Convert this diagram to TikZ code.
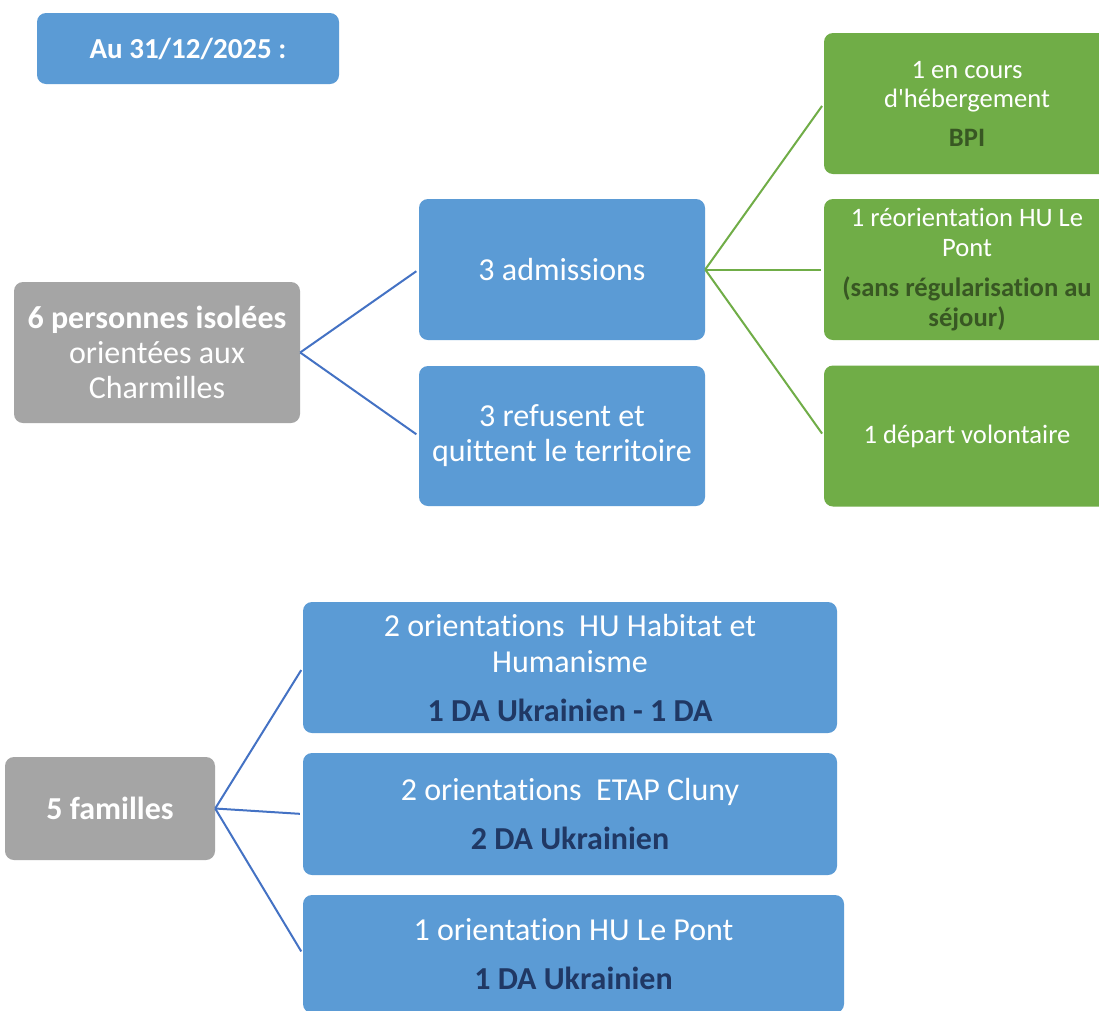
\documentclass[tikz,border=0pt]{standalone}
\usepackage{fontspec}
\setmainfont[Ligatures={NoCommon,TeXOff}]{Carlito}
\definecolor{boxblue}{HTML}{5B9BD5}
\definecolor{boxgray}{HTML}{A5A5A5}
\definecolor{boxgreen}{HTML}{70AD47}
\definecolor{lineblue}{HTML}{4472C4}
\definecolor{textgreen}{HTML}{385723}
\definecolor{textnavy}{HTML}{203864}
\newcommand{\gbold}[1]{\textcolor{textgreen}{\textbf{#1}}}
\newcommand{\nbold}[1]{\textcolor{textnavy}{\textbf{#1}}}
\tikzset{
  box/.style={rounded corners=9pt, inner sep=0pt, align=center, text=white},
  bluebox/.style={box, fill=boxblue},
  graybox/.style={box, fill=boxgray},
  greenbox/.style={box, fill=boxgreen, minimum width=286pt, minimum height=141pt, font=\fontsize{26.6}{29.5}\selectfont},
  topfont/.style={font=\fontsize{32}{35}\selectfont},
  botfont/.style={font=\fontsize{32}{36}\selectfont},
  bluelink/.style={draw=lineblue, line width=2pt, shorten >=3pt},
  greenlink/.style={draw=boxgreen, line width=2pt, shorten >=3pt},
}
\begin{document}
\begin{tikzpicture}[x=1pt, y=-1pt]
\clip (0,0) rectangle (1099,1010);
\fill[white] (0,0) rectangle (1099,1010);

\node[bluebox, minimum width=302pt, minimum height=71pt, font=\fontsize{29}{32}\selectfont\bfseries] (date) at (188,48.5) {Au 31/12/2025 :};

\node[graybox, topfont, minimum width=286pt, minimum height=141pt] (iso) at (157,352.5)
  {\textbf{6 personnes isolées}\\orientées aux\\Charmilles};
\node[bluebox, topfont, minimum width=286pt, minimum height=141pt] (adm) at (562,269.5) {3 admissions};
\node[bluebox, topfont, minimum width=286pt, minimum height=140pt] (ref) at (562,436)
  {3 refusent et\\quittent le territoire};

\node[greenbox] (g1) at (967,103.5) {1 en cours\\d'hébergement\\[9pt]\gbold{BPI}};
\node[greenbox] (g2) at (967,269.5) {1 réorientation HU Le\\Pont\\[11pt]\gbold{(sans régularisation au}\\\gbold{séjour)}};
\node[greenbox] (g3) at (967,436) {1 départ volontaire};

\node[graybox, topfont, minimum width=210pt, minimum height=103pt] (fam) at (110,808.5) {\textbf{5 familles}};
\node[bluebox, botfont, minimum width=534pt, minimum height=131pt] (b1) at (570,667.5)
  {2 orientations~ HU Habitat et\\Humanisme\\[13pt]\nbold{1 DA Ukrainien - 1 DA}};
\node[bluebox, botfont, minimum width=534pt, minimum height=122pt] (b2) at (570,814)
  {2 orientations~ ETAP Cluny\\[13pt]\nbold{2 DA Ukrainien}};
\node[bluebox, botfont, minimum width=541pt, minimum height=118pt] (b3) at (573.5,954)
  {1 orientation HU Le Pont\\[13pt]\nbold{1 DA Ukrainien}};

\draw[bluelink] (iso.east) -- (adm.west);
\draw[bluelink] (iso.east) -- (ref.west);
\draw[greenlink] (adm.east) -- (g1.west);
\draw[greenlink] (adm.east) -- (g2.west);
\draw[greenlink] (adm.east) -- (g3.west);
\draw[bluelink] (fam.east) -- (b1.west);
\draw[bluelink] (fam.east) -- (b2.west);
\draw[bluelink] (fam.east) -- (b3.west);
\end{tikzpicture}
\end{document}
